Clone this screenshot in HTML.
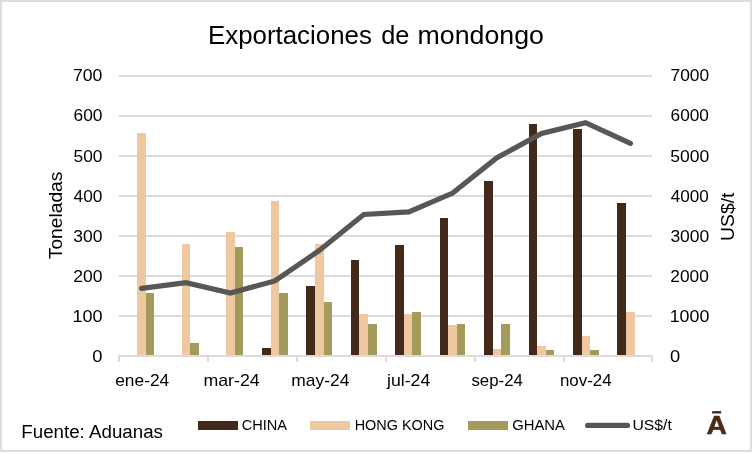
<!DOCTYPE html>
<html lang="es"><head><meta charset="utf-8"><title>Exportaciones de mondongo</title>
<style>
html,body{margin:0;padding:0;background:#fff;}
body{width:754px;height:454px;overflow:hidden;}
svg{display:block;}
text{font-family:"Liberation Sans", sans-serif;fill:#000;}
</style></head><body>
<svg width="754" height="454" viewBox="0 0 754 454">
<rect x="0" y="0" width="754" height="454" fill="#fff"/>
<rect x="1" y="1" width="750" height="450" fill="#fff" stroke="#dfdbdb" stroke-width="2"/>

<g stroke="#dedada" stroke-width="2" shape-rendering="crispEdges">
<line x1="119.0" y1="76" x2="652.0" y2="76"/>
<line x1="119.0" y1="116" x2="652.0" y2="116"/>
<line x1="119.0" y1="156" x2="652.0" y2="156"/>
<line x1="119.0" y1="196" x2="652.0" y2="196"/>
<line x1="119.0" y1="236" x2="652.0" y2="236"/>
<line x1="119.0" y1="276" x2="652.0" y2="276"/>
<line x1="119.0" y1="316" x2="652.0" y2="316"/>
</g>
<g fill="#43291a" shape-rendering="crispEdges">
<rect x="262" y="348" width="9" height="8"/>
<rect x="306" y="286" width="9" height="70"/>
<rect x="351" y="260" width="8" height="96"/>
<rect x="395" y="245" width="9" height="111"/>
<rect x="440" y="218" width="8" height="138"/>
<rect x="484" y="181" width="9" height="175"/>
<rect x="529" y="124" width="8" height="232"/>
<rect x="573" y="129" width="9" height="227"/>
<rect x="617" y="203" width="9" height="153"/>
</g>
<g fill="#efc8a1" shape-rendering="crispEdges">
<rect x="137" y="133" width="9" height="223"/>
<rect x="182" y="244" width="8" height="112"/>
<rect x="226" y="232" width="9" height="124"/>
<rect x="271" y="201" width="8" height="155"/>
<rect x="315" y="244" width="9" height="112"/>
<rect x="359" y="314" width="9" height="42"/>
<rect x="404" y="314" width="8" height="42"/>
<rect x="448" y="325" width="9" height="31"/>
<rect x="493" y="349" width="8" height="7"/>
<rect x="537" y="346" width="9" height="10"/>
<rect x="582" y="336" width="8" height="20"/>
<rect x="626" y="312" width="9" height="44"/>
</g>
<g fill="#a39b5b" shape-rendering="crispEdges">
<rect x="146" y="293" width="8" height="63"/>
<rect x="190" y="343" width="9" height="13"/>
<rect x="235" y="247" width="8" height="109"/>
<rect x="279" y="293" width="9" height="63"/>
<rect x="324" y="302" width="8" height="54"/>
<rect x="368" y="324" width="9" height="32"/>
<rect x="412" y="312" width="9" height="44"/>
<rect x="457" y="324" width="8" height="32"/>
<rect x="501" y="324" width="9" height="32"/>
<rect x="546" y="350" width="8" height="6"/>
<rect x="590" y="350" width="9" height="6"/>
</g>
<g fill="#dedada" shape-rendering="crispEdges">
<rect x="118" y="355" width="535" height="2"/>
<rect x="118" y="355" width="2" height="7"/>
<rect x="207" y="355" width="2" height="7"/>
<rect x="296" y="355" width="2" height="7"/>
<rect x="385" y="355" width="2" height="7"/>
<rect x="474" y="355" width="2" height="7"/>
<rect x="563" y="355" width="2" height="7"/>
<rect x="651" y="355" width="2" height="7"/>
</g>
<polyline points="141.53,288.40 185.98,282.70 230.43,293.00 274.88,280.90 319.32,250.50 363.78,214.50 408.90,211.90 452.68,193.00 496.60,157.90 541.58,133.50 585.55,122.70 630.48,143.40" fill="none" stroke="#575757" stroke-width="5.15" stroke-linecap="round" stroke-linejoin="miter"/>
<text id="t1" font-size="25" textLength="163.89" lengthAdjust="spacingAndGlyphs" x="208.0" y="43.6">Exportaciones</text>
<text id="t2" font-size="25" textLength="28.16" lengthAdjust="spacingAndGlyphs" x="381.19" y="43.6">de</text>
<text id="t3" font-size="25" textLength="126.32" lengthAdjust="spacingAndGlyphs" x="417.59" y="43.6">mondongo</text>
<text id="l0" font-size="17" textLength="29.42" lengthAdjust="spacingAndGlyphs" x="73.02" y="81">700</text>
<text id="l1" font-size="17" textLength="29.0" lengthAdjust="spacingAndGlyphs" x="73.48" y="121">600</text>
<text id="l2" font-size="17" textLength="28.93" lengthAdjust="spacingAndGlyphs" x="73.54" y="162">500</text>
<text id="l3" font-size="17" textLength="28.88" lengthAdjust="spacingAndGlyphs" x="73.59" y="202">400</text>
<text id="l4" font-size="17" textLength="29.22" lengthAdjust="spacingAndGlyphs" x="73.28" y="242">300</text>
<text id="l5" font-size="17" textLength="29.2" lengthAdjust="spacingAndGlyphs" x="73.3" y="282">200</text>
<text id="l6" font-size="17" textLength="30.08" lengthAdjust="spacingAndGlyphs" x="72.52" y="322">100</text>
<text id="l7" font-size="17" textLength="10.2" lengthAdjust="spacingAndGlyphs" x="92.3" y="362">0</text>
<text id="r0" font-size="17" textLength="38.63" lengthAdjust="spacingAndGlyphs" x="670.53" y="81">7000</text>
<text id="r1" font-size="17" textLength="38.3" lengthAdjust="spacingAndGlyphs" x="670.62" y="121">6000</text>
<text id="r2" font-size="17" textLength="38.93" lengthAdjust="spacingAndGlyphs" x="670.36" y="162">5000</text>
<text id="r3" font-size="17" textLength="38.1" lengthAdjust="spacingAndGlyphs" x="670.79" y="202">4000</text>
<text id="r4" font-size="17" textLength="38.85" lengthAdjust="spacingAndGlyphs" x="670.4" y="242">3000</text>
<text id="r5" font-size="17" textLength="38.49" lengthAdjust="spacingAndGlyphs" x="670.36" y="282">2000</text>
<text id="r6" font-size="17" textLength="39.6" lengthAdjust="spacingAndGlyphs" x="669.71" y="322">1000</text>
<text id="r7" font-size="17" textLength="10.2" lengthAdjust="spacingAndGlyphs" x="669.9" y="362">0</text>
<text id="x0" font-size="17" textLength="54.03" lengthAdjust="spacingAndGlyphs" x="115.23" y="386">ene-24</text>
<text id="x1" font-size="17" textLength="56.3" lengthAdjust="spacingAndGlyphs" x="203.4" y="386">mar-24</text>
<text id="x2" font-size="17" textLength="58.13" lengthAdjust="spacingAndGlyphs" x="291.3" y="386">may-24</text>
<text id="x3" font-size="17" textLength="43.24" lengthAdjust="spacingAndGlyphs" x="387.04" y="386">jul-24</text>
<text id="x4" font-size="17" textLength="51.36" lengthAdjust="spacingAndGlyphs" x="471.48" y="386">sep-24</text>
<text id="x5" font-size="17" textLength="51.66" lengthAdjust="spacingAndGlyphs" x="559.91" y="386">nov-24</text>
<text id="yl" font-size="18" textLength="87.59" lengthAdjust="spacingAndGlyphs" transform="translate(62.3,259.19) rotate(-90)">Toneladas</text>
<text id="yr" font-size="18" textLength="48.28" lengthAdjust="spacingAndGlyphs" transform="translate(733.9,240.89) rotate(-90)">US$/t</text>
<text id="src" font-size="18" textLength="141.63" lengthAdjust="spacingAndGlyphs" x="21.32" y="437.6">Fuente: Aduanas</text>
<text id="g1" font-size="14.4" textLength="45.33" lengthAdjust="spacingAndGlyphs" x="241.75" y="429.6">CHINA</text>
<text id="g2" font-size="14.4" textLength="89.73" lengthAdjust="spacingAndGlyphs" x="354.7" y="429.6">HONG KONG</text>
<text id="g3" font-size="14.4" textLength="52.81" lengthAdjust="spacingAndGlyphs" x="512.18" y="429.6">GHANA</text>
<text id="g4" font-size="14.4" textLength="39.5" lengthAdjust="spacingAndGlyphs" x="632.4" y="429.6">US$/t</text>
<text id="logo" font-size="25" textLength="20.4" lengthAdjust="spacingAndGlyphs" font-weight="bold" style="fill:#4a2b19;stroke:#4a2b19;stroke-width:0.5px" x="706.6" y="433.9">A</text>
<rect x="198" y="421" width="40" height="9" fill="#43291a"/>
<rect x="310" y="421" width="40" height="9" fill="#efc8a1"/>
<rect x="468" y="421" width="40" height="9" fill="#a39b5b"/>
<line x1="587.6" y1="425.45" x2="627.5" y2="425.45" stroke="#575757" stroke-width="5.2" stroke-linecap="round"/>
<rect x="712.1" y="411.1" width="9" height="2.4" fill="#4a2b19"/>
</svg></body></html>
